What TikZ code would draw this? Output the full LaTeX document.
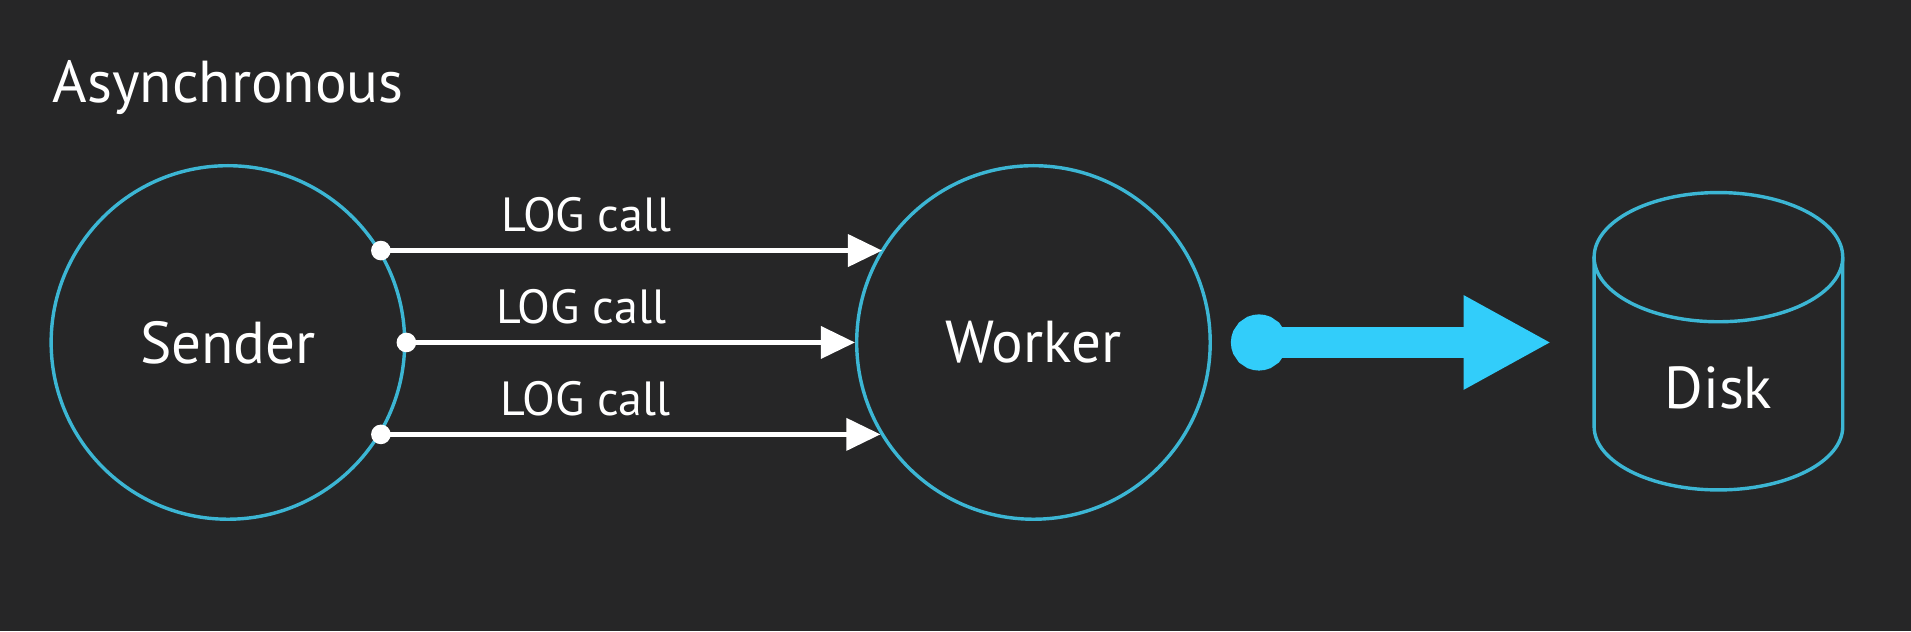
\documentclass[tikz,border=0pt]{standalone}
\usepackage{fontspec}
\setmainfont{PT Sans}
\usepackage{tikz}
\usetikzlibrary{arrows.meta,positioning}
\definecolor{bgdark}{RGB}{38,38,39}
\definecolor{ringblue}{RGB}{60,182,212}
\definecolor{flowcyan}{RGB}{50,205,250}

\begin{document}
\begin{tikzpicture}
      [line cap=round,line join=round,x=0.025cm,y=-0.025cm,
       proc/.style={circle,draw=ringblue,line width=0.07cm,minimum size=7.25cm,inner sep=0pt,text=white,font=\fontsize{34.5}{38}\selectfont},
       call/.style={draw=white,line width=0.1cm,shorten <=-0.2cm,{Circle[length=0.4cm]}-{Triangle[length=0.7cm,width=0.65cm]}},
       calllabel/.style={text=white,font=\fontsize{28}{31}\selectfont,inner sep=1pt}]

%background
  \path[use as bounding box,fill=bgdark] (0,0) rectangle (1568,518);

%title
  \node[anchor=west,text=white,font=\fontsize{34.5}{38}\selectfont,inner sep=0pt] (title) at (43,72) {Asynchronous};

%the two processes
  \node[proc] (sender) at (187,281) {Sender};
  \node[proc] (worker) [right=9.2cm of sender] {Worker};

%log calls
  \foreach \a/\b/\i/\p in {31.6/148.4/1/0.41, 0/180/2/0.39, -31.6/211.6/3/0.41}
   \draw[call] (sender.\a) -- node (log\i) [calllabel,pos=\p,above=0.3cm] {LOG call} (sender.\a -| worker.\b);

%disk
  \draw[ringblue,line width=0.07cm] (1308,211) -- (1308,350) arc[start angle=180,end angle=0,x radius=102,y radius=52] -- (1512,211);
  \draw[ringblue,line width=0.07cm] (1410,211) ellipse [x radius=102,y radius=53];
  \node[text=white,font=\fontsize{34.5}{38}\selectfont] (disk) at (1410,318) {Disk};

%flush to disk
  \coordinate (flowstart) at (1010,281);
  \coordinate (flowend) at (1273,281);
  \draw[flowcyan,line width=0.65cm,line cap=butt,{Circle[length=1.15cm]}-{Triangle[length=1.8cm,width=1.8cm]}] (flowstart) -- (flowend);

\end{tikzpicture}
\end{document}
